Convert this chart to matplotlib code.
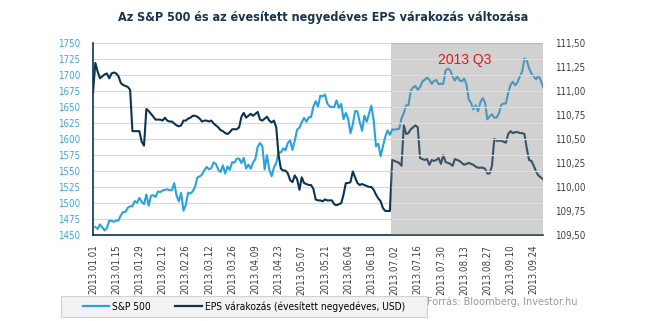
import numpy as np
import pandas as pd
import matplotlib
matplotlib.use("Agg")
import matplotlib.pyplot as plt
from matplotlib.patches import Rectangle
from matplotlib.lines import Line2D

# ---------------- data ----------------
dates = pd.bdate_range("2013-01-01", "2013-09-30")

sp500 = [np.nan, 1462.42, 1459.37, 1466.47, 1461.89, 1457.15, 1461.02, 1472.12, 1472.05, 1470.68,
         1472.34, 1472.63, 1480.94, 1485.98, 1485.98, 1492.56, 1494.81, 1494.82, 1502.96, 1500.18,
         1507.84, 1501.96, 1498.11, 1513.17, 1495.71, 1511.29, 1512.12, 1509.39, 1517.93, 1517.01,
         1519.43, 1520.33, 1521.38, 1519.79, 1519.79, 1530.94, 1511.95, 1502.42, 1515.60, 1487.85,
         1496.94, 1515.99, 1514.68, 1518.20, 1525.20, 1539.79, 1541.46, 1544.26, 1551.18, 1556.22,
         1552.48, 1554.52, 1563.23, 1560.70, 1552.10, 1548.34, 1558.71, 1545.80, 1556.89, 1551.69,
         1563.77, 1562.85, 1569.19, 1569.19, 1562.17, 1570.25, 1553.69, 1559.98, 1553.28, 1563.07,
         1568.61, 1587.73, 1593.37, 1588.85, 1552.36, 1574.57, 1552.01, 1541.61, 1555.25, 1562.50,
         1578.78, 1578.79, 1585.16, 1582.24, 1593.61, 1597.57, 1582.70, 1597.59, 1614.42, 1617.50,
         1625.96, 1632.69, 1626.67, 1633.70, 1633.77, 1650.34, 1658.78, 1650.47, 1667.47, 1666.29,
         1669.16, 1655.35, 1650.51, 1649.60, 1649.60, 1660.06, 1648.36, 1654.41, 1630.74, 1640.42,
         1631.38, 1608.90, 1622.56, 1643.38, 1642.81, 1626.13, 1612.52, 1636.36, 1626.73, 1639.04,
         1651.81, 1628.93, 1588.19, 1592.43, 1573.09, 1588.03, 1603.26, 1613.20, 1606.28, 1614.96,
         1614.08, 1615.41, 1615.41, 1631.89, 1640.46, 1652.32, 1652.62, 1675.02, 1680.19, 1682.50,
         1676.26, 1680.91, 1689.37, 1692.09, 1695.53, 1692.39, 1685.94, 1690.25, 1691.65, 1685.33,
         1685.96, 1685.73, 1706.87, 1709.67, 1707.14, 1697.37, 1690.91, 1697.48, 1691.42, 1689.47,
         1694.16, 1685.39, 1661.32, 1655.83, 1646.06, 1652.35, 1642.80, 1656.96, 1663.50, 1656.78,
         1630.48, 1634.96, 1638.17, 1632.97, 1632.97, 1639.77, 1653.08, 1655.08, 1655.17, 1671.71,
         1683.99, 1689.13, 1683.42, 1687.99, 1697.60, 1704.76, 1725.52, 1722.34, 1709.91, 1701.84,
         1697.42, 1692.77, 1698.67, 1691.75, 1681.55]

eps = [110.98, 111.29, 111.20, 111.13, 111.15, 111.17, 111.18, 111.13, 111.18, 111.19,
       111.18, 111.15, 111.08, 111.06, 111.05, 111.04, 111.01, 110.58, 110.58, 110.58,
       110.58, 110.47, 110.43, 110.81, 110.79, 110.76, 110.73, 110.70, 110.70, 110.70,
       110.69, 110.72, 110.69, 110.68, 110.68, 110.66, 110.64, 110.63, 110.64, 110.69,
       110.69, 110.71, 110.72, 110.74, 110.74, 110.73, 110.71, 110.68, 110.69, 110.69,
       110.68, 110.69, 110.66, 110.64, 110.62, 110.59, 110.58, 110.56, 110.55, 110.57,
       110.60, 110.60, 110.60, 110.62, 110.73, 110.77, 110.72, 110.74, 110.76, 110.74,
       110.76, 110.78, 110.70, 110.69, 110.71, 110.73, 110.69, 110.67, 110.69, 110.62,
       110.33, 110.19, 110.17, 110.17, 110.14, 110.07, 110.05, 110.12, 110.08, 109.97,
       110.10, 110.04, 110.03, 110.02, 110.02, 109.98, 109.87, 109.86, 109.86, 109.85,
       109.87, 109.86, 109.86, 109.86, 109.82, 109.81, 109.82, 109.83, 109.92, 110.04,
       110.04, 110.05, 110.16, 110.10, 110.04, 110.02, 110.03, 110.02, 110.01, 110.00,
       110.00, 109.97, 109.92, 109.88, 109.85, 109.78, 109.75, 109.75, 109.75, 110.28,
       110.27, 110.26, 110.25, 110.22, 110.64, 110.55, 110.56, 110.60, 110.62, 110.64,
       110.62, 110.30, 110.29, 110.28, 110.29, 110.23, 110.28, 110.27, 110.28, 110.30,
       110.24, 110.33, 110.26, 110.25, 110.24, 110.22, 110.29, 110.28, 110.27, 110.25,
       110.23, 110.24, 110.25, 110.24, 110.23, 110.21, 110.20, 110.20, 110.20, 110.19,
       110.14, 110.14, 110.22, 110.50, 110.48, 110.48, 110.48, 110.47, 110.46, 110.55,
       110.58, 110.56, 110.57, 110.57, 110.56, 110.56, 110.55, 110.40, 110.28, 110.27,
       110.22, 110.16, 110.12, 110.10, 110.08]

left_ticks = [1450, 1475, 1500, 1525, 1550, 1575, 1600, 1625, 1650, 1675, 1700, 1725, 1750]
right_ticks = [109.50, 109.75, 110.00, 110.25, 110.50, 110.75, 111.00, 111.25, 111.50]
tick_step = 10
q3_start = "2013-07-01"

title = "Az S&P 500 és az évesített negyedéves EPS várakozás változása"
sp_label = "S&P 500"
eps_label = "EPS várakozás (évesített negyedéves, USD)"
source = "Forrás: Bloomberg, Investor.hu"
q3_text = "2013 Q3"

# ---------------- style ----------------
LIGHT = "#2aa2dc"
DARK = "#0c3350"
plt.rcParams["font.family"] = ["DejaVu Sans"]
plt.rcParams["font.stretch"] = "condensed"

W, H = 645, 321
fig = plt.figure(figsize=(W / 100, H / 100), dpi=100)
fig.patch.set_facecolor("white")

x0, x1, ytop, ybot = 93, 543, 42.7, 235
ax = fig.add_axes([x0 / W, 1 - ybot / H, (x1 - x0) / W, (ybot - ytop) / H])
ax2 = ax.twinx()

x = np.arange(len(dates))
n = len(dates)

ax.plot(x, sp500, color=LIGHT, lw=1.5, zorder=2, solid_joinstyle="round")
ax2.plot(x, eps, color=DARK, lw=1.5, zorder=2, solid_joinstyle="round")

ax.set_xlim(0, n - 1)
ax.set_ylim(left_ticks[0], left_ticks[-1])
ax2.set_ylim(right_ticks[0], right_ticks[-1])

# gridlines (under lines)
ax.set_yticks(left_ticks)
ax.grid(axis="y", color="#d9d9d9", lw=0.9, zorder=0)
ax.set_axisbelow(True)

# Q3 shading (translucent, over lines)
qi = dates.get_loc(pd.Timestamp(q3_start)) - 0.5
ax2.add_patch(Rectangle((qi, right_ticks[0]), n - 1 - qi, right_ticks[-1] - right_ticks[0],
                        facecolor="#878787", alpha=0.38, edgecolor="none", zorder=3))
ax2.hlines(left_ticks[1:-1], qi, n - 1, colors="#dedede", lw=0.9, zorder=4,
           transform=ax.transData)
ax2.text((qi + n - 1) / 2 - 1, 1723, q3_text, transform=ax.transData, color="#e8141c",
         fontsize=10, ha="center", va="center", family="Liberation Sans",
         fontstretch="normal", zorder=5)

# ticks
ax.set_yticklabels([str(v) for v in left_ticks], color="#3ea6dc", fontsize=7)
ax2.set_yticks(right_ticks)
ax2.set_yticklabels([f"{v:.2f}".replace(".", ",") for v in right_ticks], color="#404040", fontsize=7)
ax.set_xticks(x[::tick_step])
ax.set_xticklabels([d.strftime("%Y.%m.%d") for d in dates[::tick_step]], rotation=90,
                   fontsize=7, color="#404040")
ax.tick_params(axis="both", length=0)
ax.tick_params(axis="y", pad=9)
ax.tick_params(axis="x", pad=7)
ax2.tick_params(axis="y", length=0, pad=9)

for a in (ax, ax2):
    for s in ("top", "right", "left", "bottom"):
        a.spines[s].set_visible(False)
ax.spines["left"].set_visible(True)
ax.spines["left"].set_color(DARK)
ax.spines["left"].set_linewidth(1.2)
ax.spines["bottom"].set_visible(True)
ax.spines["bottom"].set_color(DARK)
ax.spines["bottom"].set_linewidth(1.2)

# title
fig.text(323 / W, 1 - 18 / H, title, ha="center", va="center", fontsize=9,
         color="#17344f", fontweight="bold")

# legend: background box + frameless legend
fig.patches.append(Rectangle((61 / W, 1 - 317 / H), (427 - 61) / W, 21 / H,
                             transform=fig.transFigure, facecolor="#f2f2f2",
                             edgecolor="#d0d0d0", lw=0.8, zorder=0))
handles = [Line2D([], [], color=LIGHT, lw=1.6), Line2D([], [], color=DARK, lw=1.6)]
leg = fig.legend(handles, [sp_label, eps_label], loc="center left",
                 bbox_to_anchor=(83 / W, 1 - 306.5 / H), ncol=2, fontsize=7.3,
                 frameon=False, borderaxespad=0, borderpad=0,
                 handlelength=2.6, handletextpad=0.3, columnspacing=2.4)

fig.text(427 / W, 1 - 301.5 / H, source, ha="left", va="center", fontsize=7.8, color="#9a9a9a")

fig.savefig("out.png", dpi=100)
